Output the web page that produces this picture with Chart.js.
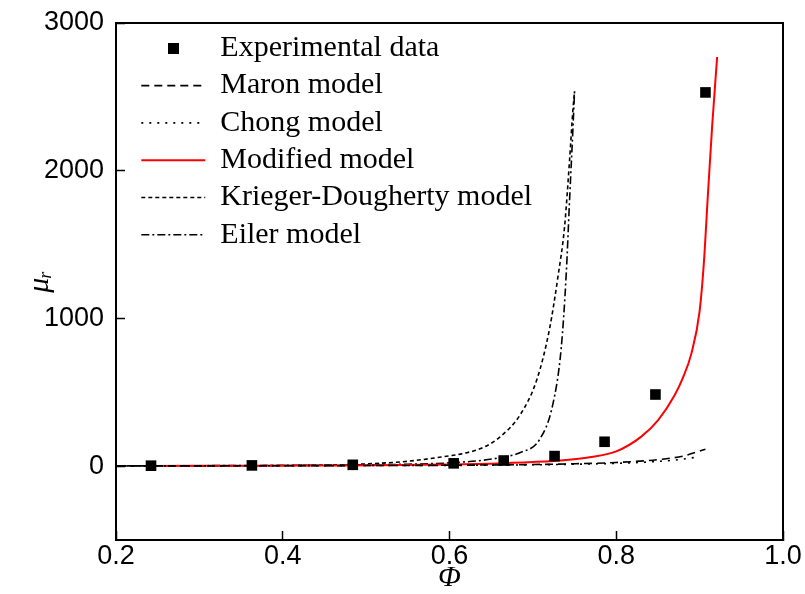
<!DOCTYPE html>
<html>
<head>
<meta charset="utf-8">
<script src="https://cdn.jsdelivr.net/npm/chart.js@4.4.1/dist/chart.umd.min.js"></script>
<style>
  html, body { margin: 0; padding: 0; background: #fff; }
  #wrap { width: 805px; height: 594px; }
</style>
</head>
<body>
<div id="wrap"><canvas id="viscosity" width="805" height="594"></canvas></div>
<script>
// measured points
var phiExp = [0.242, 0.363, 0.484, 0.605, 0.665, 0.726, 0.786, 0.847, 0.907];
var muExp = [3, 5, 9, 19, 38, 68, 165, 485, 2530];

// model curves
var phiMaron = [0.20, 0.30, 0.40, 0.50, 0.60, 0.70, 0.75, 0.80, 0.85, 0.88, 0.907];
var muMaron = [2, 2, 3, 4, 6, 11, 16, 25, 44, 68, 115];

var phiChong = [0.20, 0.30, 0.40, 0.50, 0.60, 0.70, 0.75, 0.80, 0.85, 0.875, 0.898];
var muChong = [2, 2, 3, 4, 5, 9, 13, 19, 32, 44, 62];

var phiMod = [0.24, 0.30, 0.36, 0.42, 0.48, 0.54, 0.60, 0.65, 0.70, 0.74, 0.77, 0.80, 0.83, 0.85, 0.87, 0.88, 0.89, 0.90, 0.905, 0.91, 0.915, 0.921];
var muMod = [1, 2, 3, 4, 5, 7, 11, 17, 28, 42, 62, 100, 200, 310, 480, 600, 760, 1050, 1370, 1845, 2300, 2770];

var phiKD = [0.20, 0.30, 0.40, 0.45, 0.50, 0.55, 0.59, 0.62, 0.64, 0.66, 0.685, 0.705, 0.72, 0.73, 0.738, 0.744, 0.748, 0.750];
var muKD = [1, 2, 4, 7, 15, 33, 62, 90, 125, 195, 350, 590, 930, 1280, 1620, 2070, 2410, 2540];

var phiEiler = [0.20, 0.30, 0.40, 0.50, 0.55, 0.60, 0.64, 0.665, 0.685, 0.708, 0.724, 0.734, 0.740, 0.744, 0.748, 0.750];
var muEiler = [2, 3, 5, 9, 13, 22, 40, 62, 92, 180, 420, 800, 1300, 1800, 2280, 2540];

var xTicks = [0.2, 0.4, 0.6, 0.8, 1.0];
var xTickLabels = ['0.2', '0.4', '0.6', '0.8', '1.0'];
var yTicks = [0, 1000, 2000, 3000];
var yTickLabels = ['0', '1000', '2000', '3000'];
var yMin = -500, yMax = 3000;

function pairs(xs, ys) {
  return xs.map(function (x, i) { return { x: x, y: ys[i] }; });
}

// legend marker for the measured points
var squareMark = document.createElement('canvas');
squareMark.width = 11;
squareMark.height = 11;
squareMark.getContext('2d').fillRect(0, 0, 11, 11);

function modelLine(label, xs, ys, color, width, dash) {
  return {
    label: label,
    data: pairs(xs, ys),
    showLine: true,
    borderColor: color,
    backgroundColor: color,
    borderWidth: width,
    borderDash: dash,
    pointRadius: 0,
    pointHoverRadius: 0,
    pointStyle: 'line',
    cubicInterpolationMode: 'monotone',
    order: 1
  };
}

// put the legend block in the upper left of the plot box
var legendShift = {
  id: 'legendShift',
  afterLayout: function (chart) {
    chart.legend.left = chart.chartArea.left + 18;
    chart.legend.top = chart.chartArea.top + 3;
  }
};

// frame-only axes along the top and right
function frameAxis(position, min, max) {
  return {
    type: 'linear',
    position: position,
    min: min,
    max: max,
    afterFit: function (s) {
      if (s.isHorizontal()) { s.height = 0; } else { s.width = 0; }
    },
    grid: { display: false, drawTicks: false },
    ticks: { display: false },
    border: { color: '#000', width: 2 }
  };
}

var axisFont = { family: 'Liberation Sans', size: 27 };
var serifItalic = { family: 'Liberation Serif', size: 30, style: 'italic' };

var ctx = document.getElementById('viscosity');
var chart = new Chart(ctx, {
  type: 'scatter',
  data: {
    datasets: [
      {
        label: 'Experimental data',
        data: pairs(phiExp, muExp),
        showLine: false,
        pointStyle: 'rect',
        pointRadius: 7.5,
        pointHoverRadius: 7.5,
        pointBackgroundColor: '#000',
        pointBorderColor: '#000',
        pointBorderWidth: 0,
        borderColor: '#000',
        order: 0
      },
      modelLine('Maron model', phiMaron, muMaron, '#000', 1.6, [8, 5]),
      modelLine('Chong model', phiChong, muChong, '#000', 1.6, [2, 6]),
      modelLine('Modified model', phiMod, muMod, '#ff0000', 2, []),
      modelLine('Krieger-Dougherty model', phiKD, muKD, '#000', 1.6, [4, 3]),
      modelLine('Eiler model', phiEiler, muEiler, '#000', 1.6, [8, 3, 2, 3])
    ]
  },
  plugins: [legendShift],
  options: {
    responsive: false,
    animation: false,
    events: [],
    layout: { padding: { left: 0, top: 23, right: 22, bottom: 0 } },
    plugins: {
      tooltip: { enabled: false },
      legend: {
        position: 'chartArea',
        fullSize: false,
        align: 'start',
        labels: {
          usePointStyle: true,
          pointStyleWidth: 64,
          padding: 7.3,
          color: '#000',
          font: { family: 'Liberation Serif', size: 30 },
          generateLabels: function (chart) {
            return chart.data.datasets.map(function (ds, i) {
              return {
                text: ds.label,
                datasetIndex: i,
                hidden: false,
                pointStyle: ds.showLine ? 'line' : squareMark,
                strokeStyle: ds.borderColor,
                fillStyle: ds.borderColor,
                lineWidth: ds.showLine ? ds.borderWidth : 0,
                lineDash: ds.borderDash || [],
                fontColor: '#000'
              };
            });
          }
        }
      }
    },
    scales: {
      x: {
        type: 'linear',
        position: 'bottom',
        min: 0.2,
        max: 1.0,
        afterFit: function (s) {
          s.height = 54;
          s.paddingLeft = 0;
          s.paddingRight = 0;
        },
        afterBuildTicks: function (s) {
          s.ticks = xTicks.map(function (v) { return { value: v }; });
        },
        grid: { drawOnChartArea: false, color: '#000', tickLength: -9, tickWidth: 1.5 },
        border: { color: '#000', width: 2 },
        ticks: {
          padding: 9,
          color: '#000',
          font: axisFont,
          maxRotation: 0,
          callback: function (v, i) { return xTickLabels[i]; }
        },
        title: { display: true, text: 'Φ', color: '#000', font: serifItalic, padding: { top: 0, bottom: -2 } }
      },
      y: {
        type: 'linear',
        position: 'left',
        min: yMin,
        max: yMax,
        afterFit: function (s) {
          s.width = 116;
          s.paddingTop = 0;
          s.paddingBottom = 0;
        },
        afterBuildTicks: function (s) {
          s.ticks = yTicks.map(function (v) { return { value: v }; });
        },
        grid: { drawOnChartArea: false, color: '#000', tickLength: -9, tickWidth: 1.5 },
        border: { color: '#000', width: 2 },
        ticks: {
          padding: 21,
          color: '#000',
          font: axisFont,
          callback: function (v, i) { return yTickLabels[i]; }
        },
        title: { display: true, text: 'μᵣ', color: '#000', font: serifItalic, padding: { top: 22, bottom: 0 } }
      },
      x2: frameAxis('top', 0.2, 1.0),
      y2: frameAxis('right', yMin, yMax)
    }
  }
});
</script>
</body>
</html>
